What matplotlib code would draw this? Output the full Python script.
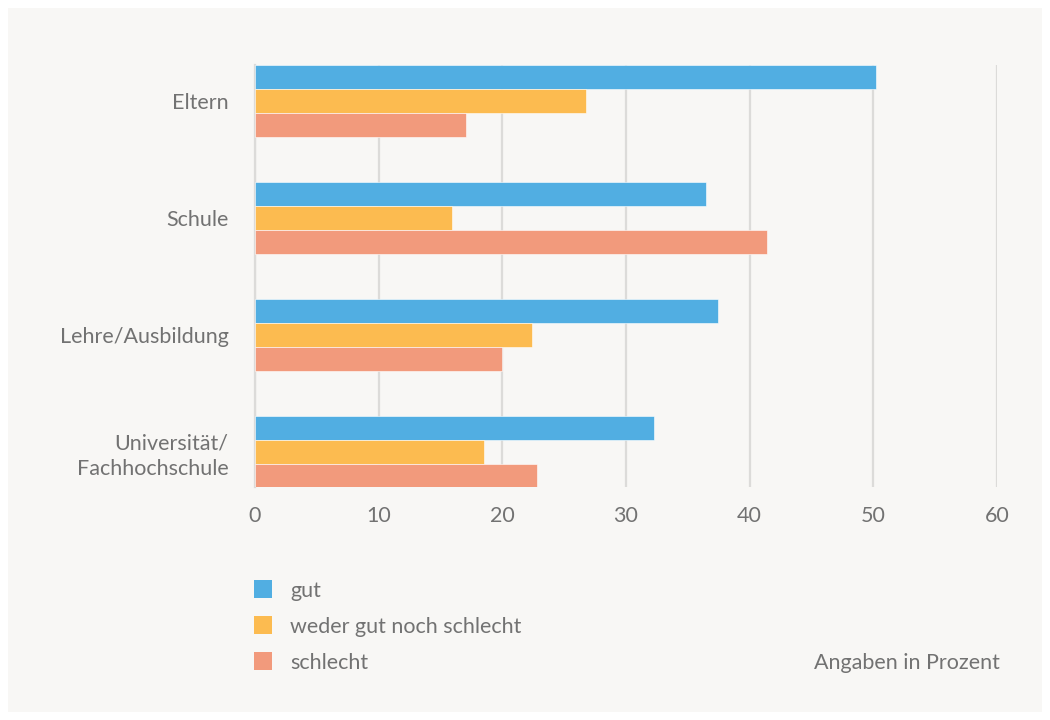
import numpy as np
import matplotlib.pyplot as plt
from matplotlib.patches import Rectangle

categories = ['Eltern', 'Schule', 'Lehre/Ausbildung', 'Universität/\nFachhochschule']
gut = [50.2, 36.5, 37.4, 32.3]
weder = [26.8, 15.9, 22.4, 18.5]
schlecht = [17.1, 41.4, 20.0, 22.8]
series_labels = ['gut', 'weder gut noch schlecht', 'schlecht']
colors = ['#51aee2', '#fcbb50', '#f29a7c']
xticks = [0, 10, 20, 30, 40, 50, 60]

text_color = '#727272'
fs = 15.5
plt.rcParams['font.family'] = ['Lato', 'DejaVu Sans']

fig = plt.figure(figsize=(10.5, 7.2), dpi=100)
fig.patch.set_facecolor('white')
# light panel behind everything
fig.add_artist(Rectangle((8 / 1050, 8 / 720), 1034 / 1050, 704 / 720,
                         transform=fig.transFigure, facecolor='#f8f7f5',
                         edgecolor='none', zorder=0))

ax = fig.add_axes([255 / 1050, 1 - 487 / 720, 742 / 1050, 422 / 720])
ax.set_facecolor('none')

y = np.arange(len(categories))
h = 0.205
for i, (vals, col) in enumerate(zip([gut, weder, schlecht], colors)):
    ax.barh(y + (i - 1) * h, vals, height=h, color=col,
            edgecolor='#ffffff', linewidth=0.4, zorder=3)

ax.set_xlim(0, 60)
ax.set_ylim(3.3, -0.31)
ax.set_xticks(xticks)
ax.set_yticks(y)
ax.set_yticklabels(categories, linespacing=1.3)
ax.grid(axis='x', color='#dcdbd9', linewidth=1.6, zorder=0)
ax.set_axisbelow(True)
for s in ['top', 'right', 'bottom']:
    ax.spines[s].set_visible(False)
ax.spines['left'].set_color('#dcdbd9')
ax.spines['left'].set_linewidth(1.6)
ax.tick_params(axis='both', length=0, labelsize=fs, labelcolor=text_color)
ax.tick_params(axis='x', pad=14)
ax.tick_params(axis='y', pad=19)

# legend drawn as squares and labels
for i, (lab, col) in enumerate(zip(series_labels, colors)):
    yc = 1 - (589 + 36 * i) / 720
    fig.add_artist(Rectangle((254 / 1050, yc - 9 / 720), 18 / 1050, 18 / 720,
                             transform=fig.transFigure, facecolor=col,
                             edgecolor='none'))
    fig.text(290 / 1050, yc - 2 / 720, lab, fontsize=fs, color=text_color,
             va='center', ha='left')

fig.text(1000 / 1050, 1 - 663 / 720, 'Angaben in Prozent', fontsize=fs,
         color=text_color, va='center', ha='right')

fig.savefig('out.png', dpi=100, facecolor=fig.get_facecolor())
